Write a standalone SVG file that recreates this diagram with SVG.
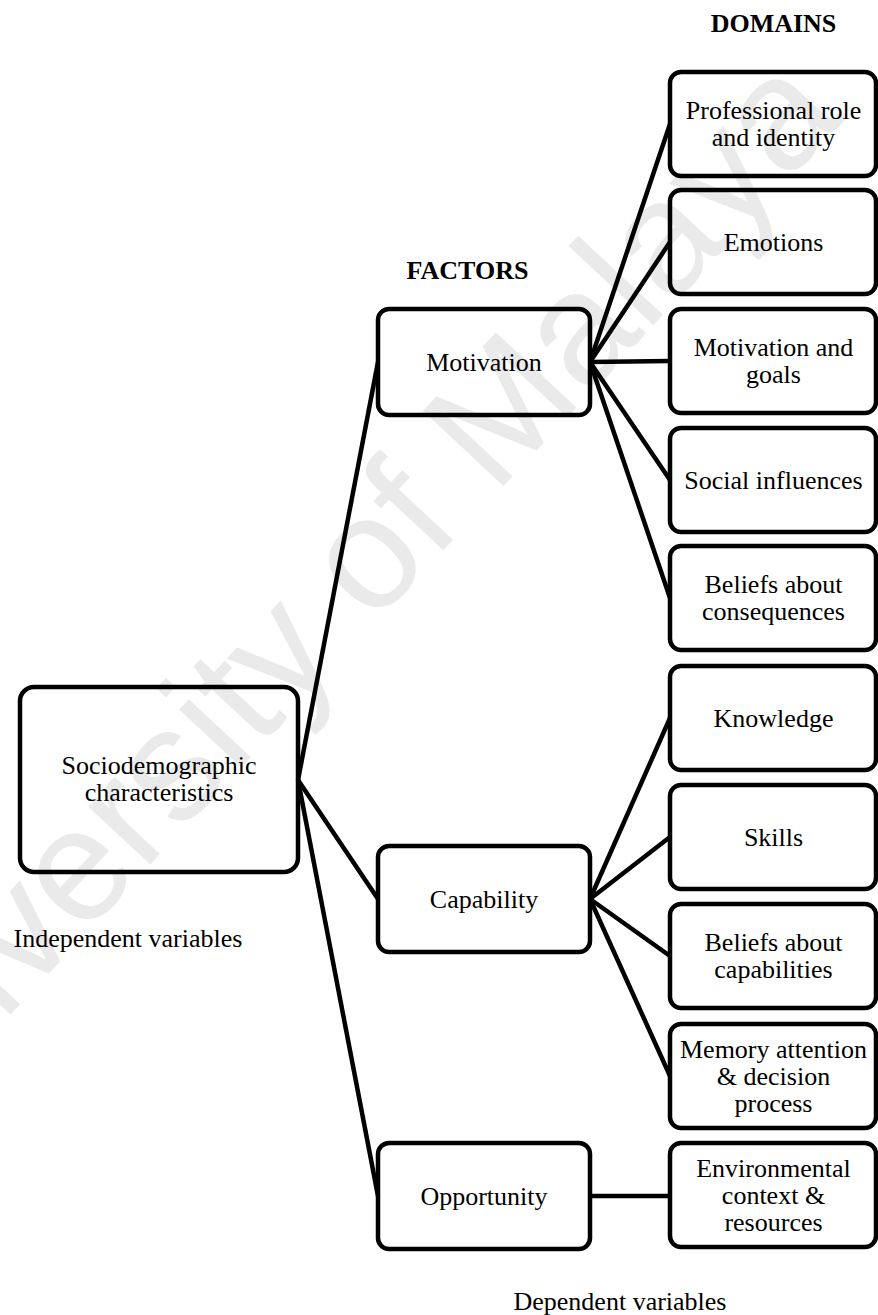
<svg xmlns="http://www.w3.org/2000/svg" width="878" height="1315" viewBox="0 0 878 1315">
  <style>
    .box { fill: none; stroke: #000; stroke-width: 4.5; }
    .lbl { font-family: "Liberation Serif", "Times New Roman", serif; font-size: 26px; fill: #000; text-anchor: middle; }
    .head { font-family: "Liberation Serif", "Times New Roman", serif; font-size: 26px; font-weight: bold; fill: #000; text-anchor: middle; }
    .edge { stroke: #000; stroke-width: 4.5; fill: none; stroke-linecap: butt; }
    .wm { font-family: "Liberation Sans", Arial, sans-serif; font-size: 160px; fill: #eaeaea; text-anchor: middle; }
  </style>
  <rect width="878" height="1315" fill="#fff"/>

  <!-- watermark -->
  <text class="wm" transform="translate(355,645) rotate(-47)">University of Malaya</text>

  <!-- headings and captions -->
  <text class="head" x="773.5" y="32">DOMAINS</text>
  <text class="head" x="467.5" y="279">FACTORS</text>
  <text class="lbl" x="128" y="947">Independent variables</text>
  <text class="lbl" x="620" y="1310">Dependent variables</text>

  <!-- connectors -->
  <g id="connectors">
    <path class="edge" d="M298,780 L378,362"/>
    <path class="edge" d="M298,780 L378,899"/>
    <path class="edge" d="M298,780 L378,1196"/>
    <path class="edge" d="M590,362 L670,124"/>
    <path class="edge" d="M590,362 L670,242"/>
    <path class="edge" d="M590,362 L670,361"/>
    <path class="edge" d="M590,362 L670,480"/>
    <path class="edge" d="M590,362 L670,598"/>
    <path class="edge" d="M590,899 L670,718"/>
    <path class="edge" d="M590,899 L670,837"/>
    <path class="edge" d="M590,899 L670,956"/>
    <path class="edge" d="M590,899 L670,1076"/>
    <path class="edge" d="M590,1196 L670,1196"/>
  </g>

  <!-- independent variable -->
  <g id="socio">
    <rect class="box" x="20" y="687" width="278" height="185" rx="14"/>
    <text class="lbl" x="159" y="774">Sociodemographic</text>
    <text class="lbl" x="159" y="801">characteristics</text>
  </g>

  <!-- factors -->
  <g id="motivation">
    <rect class="box" x="378" y="309" width="212" height="106" rx="11"/>
    <text class="lbl" x="484" y="371">Motivation</text>
  </g>
  <g id="capability">
    <rect class="box" x="378" y="846" width="212" height="106" rx="11"/>
    <text class="lbl" x="484" y="908">Capability</text>
  </g>
  <g id="opportunity">
    <rect class="box" x="378" y="1143" width="212" height="106" rx="11"/>
    <text class="lbl" x="484" y="1205">Opportunity</text>
  </g>

  <!-- domains -->
  <g id="professional-role">
    <rect class="box" x="670" y="72" width="206" height="104" rx="11"/>
    <text class="lbl" x="773.5" y="119">Professional role</text>
    <text class="lbl" x="773.5" y="146">and identity</text>
  </g>
  <g id="emotions">
    <rect class="box" x="670" y="190" width="206" height="104" rx="11"/>
    <text class="lbl" x="773.5" y="251">Emotions</text>
  </g>
  <g id="motivation-goals">
    <rect class="box" x="670" y="309" width="206" height="104" rx="11"/>
    <text class="lbl" x="773.5" y="356">Motivation and</text>
    <text class="lbl" x="773.5" y="383">goals</text>
  </g>
  <g id="social-influences">
    <rect class="box" x="670" y="428" width="206" height="104" rx="11"/>
    <text class="lbl" x="773.5" y="489">Social influences</text>
  </g>
  <g id="beliefs-consequences">
    <rect class="box" x="670" y="546" width="206" height="104" rx="11"/>
    <text class="lbl" x="773.5" y="593">Beliefs about</text>
    <text class="lbl" x="773.5" y="620">consequences</text>
  </g>
  <g id="knowledge">
    <rect class="box" x="670" y="666" width="206" height="104" rx="11"/>
    <text class="lbl" x="773.5" y="727">Knowledge</text>
  </g>
  <g id="skills">
    <rect class="box" x="670" y="785" width="206" height="104" rx="11"/>
    <text class="lbl" x="773.5" y="846">Skills</text>
  </g>
  <g id="beliefs-capabilities">
    <rect class="box" x="670" y="904" width="206" height="104" rx="11"/>
    <text class="lbl" x="773.5" y="951">Beliefs about</text>
    <text class="lbl" x="773.5" y="978">capabilities</text>
  </g>
  <g id="memory-attention">
    <rect class="box" x="670" y="1024" width="206" height="104" rx="11"/>
    <text class="lbl" x="773.5" y="1058">Memory attention</text>
    <text class="lbl" x="773.5" y="1085">&amp; decision</text>
    <text class="lbl" x="773.5" y="1112">process</text>
  </g>
  <g id="environmental-context">
    <rect class="box" x="670" y="1143" width="206" height="104" rx="11"/>
    <text class="lbl" x="773.5" y="1177">Environmental</text>
    <text class="lbl" x="773.5" y="1204">context &amp;</text>
    <text class="lbl" x="773.5" y="1231">resources</text>
  </g>
</svg>
